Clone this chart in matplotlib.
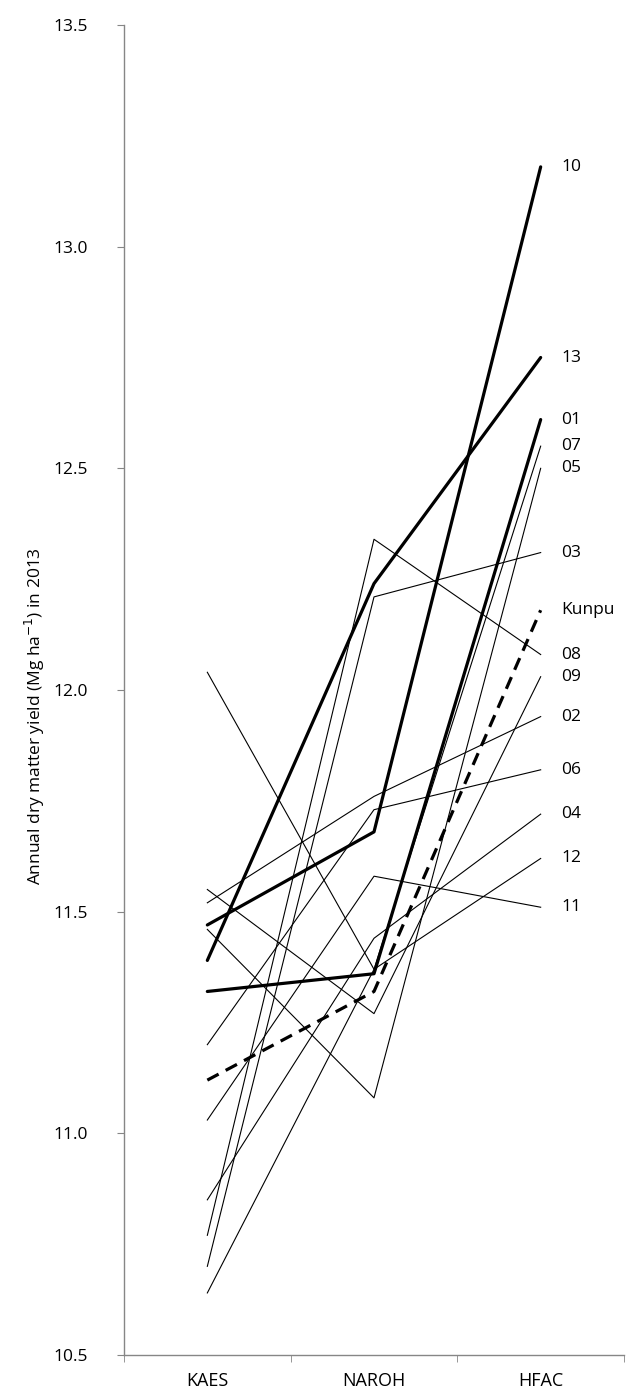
import matplotlib.pyplot as plt

plt.rcParams['font.family'] = ['Open Sans', 'DejaVu Sans']

sites = ['KAES', 'NAROH', 'HFAC']

# annual dry matter yield per cultivar at each site
cultivars = ['01', '02', '03', '04', '05', '06', '07', '08', '09', '10', '11', '12', '13', 'Kunpu']
kaes = [11.32, 11.52, 10.70, 10.85, 11.46, 11.20, 12.04, 10.77, 11.55, 11.47, 11.03, 10.64, 11.39, 11.12]
naroh = [11.36, 11.76, 12.21, 11.44, 11.08, 11.73, 11.37, 12.34, 11.27, 11.68, 11.58, 11.37, 12.24, 11.32]
hfac = [12.61, 11.94, 12.31, 11.72, 12.50, 11.82, 12.55, 12.08, 12.03, 13.18, 11.51, 11.62, 12.75, 12.18]

thick = ['01', '10', '13']
dashed = ['Kunpu']

fig = plt.figure(figsize=(6.33, 13.94), dpi=100)
ax = fig.add_axes([124 / 633, 1 - 1355 / 1394, 500 / 633, 1330 / 1394])

x = range(len(sites))
for i, name in enumerate(cultivars):
    ys = [kaes[i], naroh[i], hfac[i]]
    if name in thick:
        ax.plot(x, ys, color='black', lw=2.3, solid_capstyle='round', zorder=3)
    elif name in dashed:
        ax.plot(x, ys, color='black', lw=2.3, dashes=(4, 2.5), zorder=3)
    else:
        ax.plot(x, ys, color='black', lw=0.8, zorder=2)
    ax.annotate(name, (2, hfac[i]), xytext=(15, 0), textcoords='offset points',
                va='center', ha='left', fontsize=12.5, annotation_clip=False)

ax.set_xlim(-0.5, 2.5)
ax.set_ylim(10.5, 13.5)
ax.set_yticks([10.5, 11.0, 11.5, 12.0, 12.5, 13.0, 13.5])
ax.set_yticklabels(['10.5', '11.0', '11.5', '12.0', '12.5', '13.0', '13.5'], fontsize=12.5)
ax.set_xticks(x)
ax.set_xticklabels(sites, fontsize=13)
ax.set_xticks([-0.5, 0.5, 1.5, 2.5], minor=True)
ax.tick_params(axis='x', which='major', length=0, pad=12)
ax.tick_params(axis='x', which='minor', length=5, color='#868686', direction='out')
ax.tick_params(axis='y', length=5, color='#868686', pad=21)

for s in ['top', 'right']:
    ax.spines[s].set_visible(False)
for s in ['left', 'bottom']:
    ax.spines[s].set_color('#868686')
    ax.spines[s].set_linewidth(1.0)

fig.text(35 / 633, 1 - 716 / 1394, 'Annual dry matter yield (Mg ha$^{-1}$) in 2013',
         rotation=90, ha='center', va='center', fontsize=12.5)

fig.savefig('out.png', dpi=100)
